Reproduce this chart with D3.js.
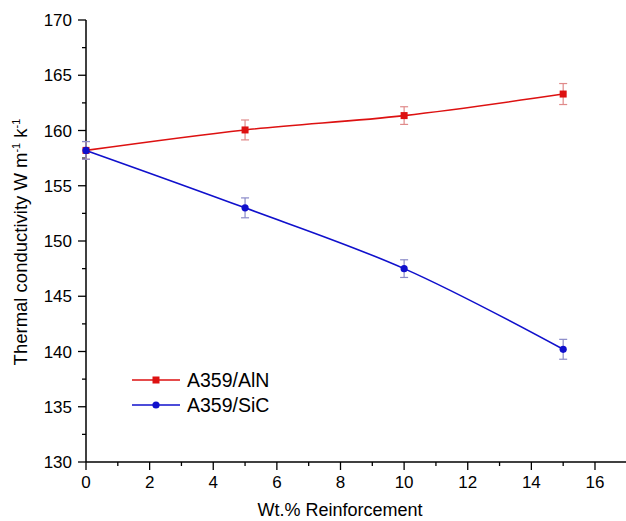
<!DOCTYPE html>
<html>
<head>
<meta charset="utf-8">
<script src="https://cdn.jsdelivr.net/npm/d3@7"></script>
<style>
  body { margin: 0; background: #fff; }
  text { font-family: "Liberation Sans", Arial, sans-serif; }
</style>
</head>
<body>
<div id="chart"></div>
<script>
// values
var xValues = [0, 5, 10, 15]
var alnValues = [158.2, 160.05, 161.35, 163.3]
var alnErr = [0.8, 0.9, 0.8, 0.95]
var sicValues = [158.2, 153.0, 147.5, 140.2]
var sicErr = [0.8, 0.9, 0.8, 0.9]
var xTicks = [0, 2, 4, 6, 8, 10, 12, 14, 16]
var yTicks = [130, 135, 140, 145, 150, 155, 160, 165, 170]

var width = 626, height = 521
var svg = d3.select('#chart').append('svg')
    .attr('width', width).attr('height', height)

var x = d3.scaleLinear().domain([0, 17]).range([86, 626.8])
var y = d3.scaleLinear().domain([130, 170]).range([462, 20])

// axes
var xAxis = svg.append('g').attr('transform', 'translate(0,' + y(130) + ')')
xAxis.append('line').attr('x1', x(0)).attr('x2', x(17))
    .attr('stroke', '#000').attr('stroke-width', 1.5)
xAxis.selectAll('.maj').data(xTicks).enter().append('line')
    .attr('x1', d => x(d)).attr('x2', d => x(d)).attr('y1', 0).attr('y2', 8)
    .attr('stroke', '#000').attr('stroke-width', 1.3)
xAxis.selectAll('.min').data(d3.range(1, 17, 2)).enter().append('line')
    .attr('x1', d => x(d)).attr('x2', d => x(d)).attr('y1', 0).attr('y2', 4)
    .attr('stroke', '#000').attr('stroke-width', 1.3)
xAxis.selectAll('text').data(xTicks).enter().append('text')
    .attr('x', d => x(d)).attr('y', 26).attr('text-anchor', 'middle')
    .attr('font-size', 17).text(d => d)

var yAxis = svg.append('g').attr('transform', 'translate(' + x(0) + ',0)')
yAxis.append('line').attr('y1', y(130)).attr('y2', y(170))
    .attr('stroke', '#000').attr('stroke-width', 1.5)
yAxis.selectAll('.maj').data(yTicks).enter().append('line')
    .attr('y1', d => y(d)).attr('y2', d => y(d)).attr('x1', 0).attr('x2', -8)
    .attr('stroke', '#000').attr('stroke-width', 1.3)
yAxis.selectAll('.min').data(d3.range(132.5, 170, 5)).enter().append('line')
    .attr('y1', d => y(d)).attr('y2', d => y(d)).attr('x1', 0).attr('x2', -4)
    .attr('stroke', '#000').attr('stroke-width', 1.3)
yAxis.selectAll('text').data(yTicks).enter().append('text')
    .attr('x', -14).attr('y', d => y(d) + 6).attr('text-anchor', 'end')
    .attr('font-size', 17).text(d => d)

// axis titles
svg.append('text').attr('x', 340).attr('y', 516)
    .attr('text-anchor', 'middle').attr('font-size', 18).text('Wt.% Reinforcement')

var yt = svg.append('text')
    .attr('transform', 'translate(27,' + (y(150) + 1) + ') rotate(-90)')
    .attr('text-anchor', 'middle').attr('font-size', 18.5)
yt.append('tspan').text('Thermal conductivity W m')
yt.append('tspan').attr('font-size', 11).attr('dy', -7).text('-1')
yt.append('tspan').attr('dy', 7).text(' k')
yt.append('tspan').attr('font-size', 11).attr('dy', -7).text('-1')

// series
var series = [
    { name: 'A359/AlN', vals: alnValues, err: alnErr, color: '#dd1111', errColor: '#e08a8a', shape: 'square' },
    { name: 'A359/SiC', vals: sicValues, err: sicErr, color: '#1010cc', errColor: '#8a8ac8', shape: 'circle' }
]

var line = d3.line().x(d => x(d[0])).y(d => y(d[1])).curve(d3.curveCatmullRom)

series.forEach(s => {
    var pts = xValues.map((v, i) => [v, s.vals[i], s.err[i]])
    var g = svg.append('g')
    // error bars
    var eb = g.selectAll('.eb').data(pts).enter().append('g')
    eb.append('line').attr('x1', d => x(d[0])).attr('x2', d => x(d[0]))
        .attr('y1', d => y(d[1] - d[2])).attr('y2', d => y(d[1] + d[2]))
        .attr('stroke', s.errColor).attr('stroke-width', 1.2)
    ;[-1, 1].forEach(sign => {
        eb.append('line').attr('x1', d => x(d[0]) - 4).attr('x2', d => x(d[0]) + 4)
            .attr('y1', d => y(d[1] + sign * d[2])).attr('y2', d => y(d[1] + sign * d[2]))
            .attr('stroke', s.errColor).attr('stroke-width', 1.2)
    })
    g.append('path').datum(pts).attr('d', line)
        .attr('fill', 'none').attr('stroke', s.color).attr('stroke-width', 1.6)
    if (s.shape === 'square') {
        g.selectAll('rect').data(pts).enter().append('rect')
            .attr('x', d => x(d[0]) - 3.5).attr('y', d => y(d[1]) - 3.5)
            .attr('width', 7).attr('height', 7).attr('fill', s.color)
    } else {
        g.selectAll('circle').data(pts).enter().append('circle')
            .attr('cx', d => x(d[0])).attr('cy', d => y(d[1])).attr('r', 3.6)
            .attr('fill', s.color)
    }
})

// legend
var legend = svg.append('g').attr('transform', 'translate(132,380)')
series.forEach((s, i) => {
    var lg = legend.append('g').attr('transform', 'translate(0,' + i * 25 + ')')
    lg.append('line').attr('x1', 0).attr('x2', 48).attr('stroke', s.color).attr('stroke-width', 1.6)
    if (s.shape === 'square') {
        lg.append('rect').attr('x', 20.5).attr('y', -3.5).attr('width', 7).attr('height', 7).attr('fill', s.color)
    } else {
        lg.append('circle').attr('cx', 24).attr('cy', 0).attr('r', 3.6).attr('fill', s.color)
    }
    lg.append('text').attr('x', 55).attr('y', 7).attr('font-size', 19.5).text(s.name)
})
</script>
</body>
</html>
